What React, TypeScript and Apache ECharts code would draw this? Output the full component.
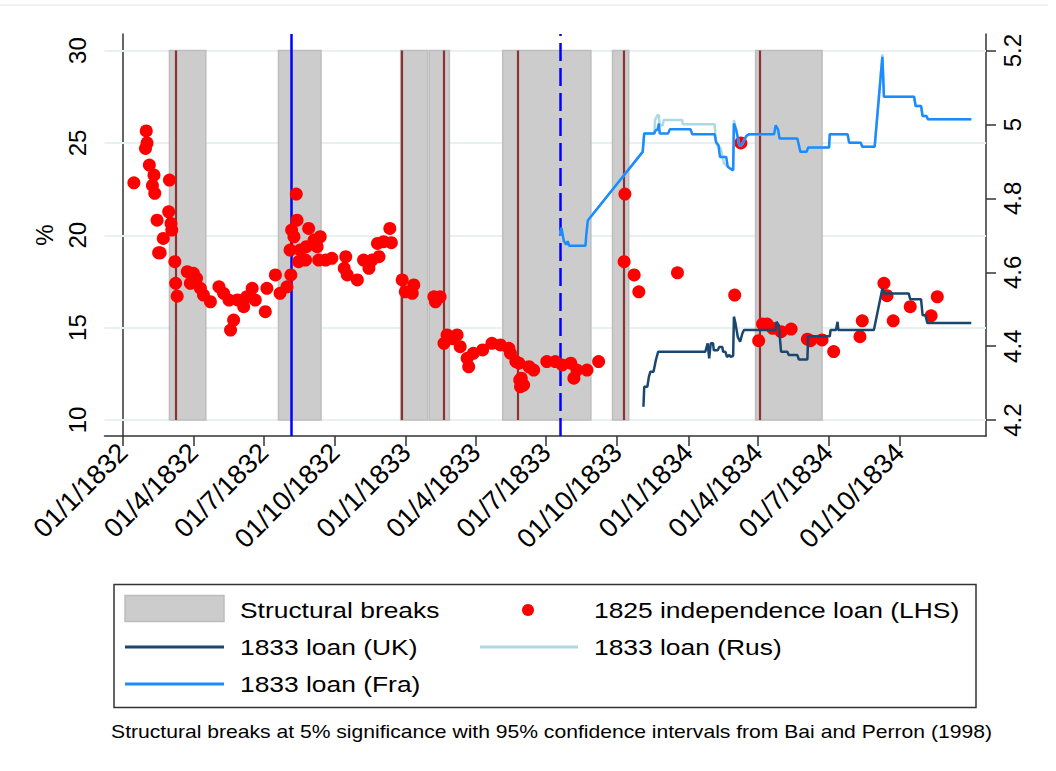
import React, { useEffect, useRef } from "react";
import * as echarts from "echarts";

const FONT = "'Liberation Sans', Arial, Helvetica, sans-serif";

// ---------- axis data ----------
const tickDates = [
  "1832-01-01", "1832-04-01", "1832-07-01", "1832-10-01",
  "1833-01-01", "1833-04-01", "1833-07-01", "1833-10-01",
  "1834-01-01", "1834-04-01", "1834-07-01", "1834-10-01",
];
const tickLabels = [
  "01/1/1832", "01/4/1832", "01/7/1832", "01/10/1832",
  "01/1/1833", "01/4/1833", "01/7/1833", "01/10/1833",
  "01/1/1834", "01/4/1834", "01/7/1834", "01/10/1834",
];
const xStart = "1831-12-08";
const xEnd = "1835-01-21";
const leftTicks = [10, 15, 20, 25, 30];
const rightTicks = [4.2, 4.4, 4.6, 4.8, 5, 5.2];
const leftRange = [9.13, 30.9];
const rightRange = [4.157, 5.245];

// ---------- structural breaks ----------
const breakStarts = ["1832-03-01", "1832-07-20", "1832-12-25", "1833-01-31", "1833-05-06", "1833-09-25", "1834-03-29"];
const breakEnds = ["1832-04-17", "1832-09-13", "1833-01-29", "1833-02-26", "1833-08-28", "1833-10-16", "1834-06-23"];
const breakDates = ["1832-03-09", "1832-12-26", "1833-02-19", "1833-05-26", "1833-10-09", "1834-04-03"];
const bandRange = [10, 30];
const blueSolidDate = "1832-08-06";
const blueDashedDate = "1833-07-19";

// ---------- 1825 independence loan (LHS) ----------
const loanDates = [
  "1832-01-15", "1832-01-30", "1832-01-31", "1832-02-01", "1832-02-04", "1832-02-08", "1832-02-10", "1832-02-11",
  "1832-02-14", "1832-02-16", "1832-02-18", "1832-02-22", "1832-02-29", "1832-03-01", "1832-03-03", "1832-03-04",
  "1832-03-08", "1832-03-09", "1832-03-11", "1832-03-24", "1832-03-28", "1832-04-01", "1832-04-05", "1832-04-10",
  "1832-04-14", "1832-04-23", "1832-05-04", "1832-05-10", "1832-05-17", "1832-05-19", "1832-05-23", "1832-05-28",
  "1832-06-05", "1832-06-09", "1832-06-16", "1832-06-20", "1832-07-03", "1832-07-05", "1832-07-16", "1832-07-22",
  "1832-07-31", "1832-08-04", "1832-08-05", "1832-08-06", "1832-08-09", "1832-08-12", "1832-08-13", "1832-08-15",
  "1832-08-17", "1832-08-24", "1832-08-25", "1832-08-28", "1832-09-04", "1832-09-08", "1832-09-10", "1832-09-12",
  "1832-09-19", "1832-09-27", "1832-10-13", "1832-10-15", "1832-10-17", "1832-10-30", "1832-11-07", "1832-11-14",
  "1832-11-18", "1832-11-25", "1832-11-27", "1832-12-03", "1832-12-11", "1832-12-13", "1832-12-27", "1832-12-31",
  "1833-01-09", "1833-01-11", "1833-02-06", "1833-02-08", "1833-02-14", "1833-02-19", "1833-02-23", "1833-03-02",
  "1833-03-08", "1833-03-12", "1833-03-21", "1833-03-23", "1833-03-29", "1833-04-10", "1833-04-22", "1833-05-03",
  "1833-05-14", "1833-05-16", "1833-05-23", "1833-05-27", "1833-05-28", "1833-05-29", "1833-05-30", "1833-06-02",
  "1833-06-09", "1833-06-15", "1833-07-02", "1833-07-13", "1833-07-22", "1833-08-02", "1833-08-06", "1833-08-10",
  "1833-08-23", "1833-09-07", "1833-10-10", "1833-10-11", "1833-10-23", "1833-10-29", "1833-12-18", "1834-03-02",
  "1834-03-10", "1834-04-02", "1834-04-07", "1834-04-13", "1834-04-20", "1834-05-01", "1834-05-14", "1834-06-04",
  "1834-06-08", "1834-06-23", "1834-07-08", "1834-08-11", "1834-08-14", "1834-09-11", "1834-09-15", "1834-09-23",
  "1834-10-15", "1834-11-11", "1834-11-19",
];
const loanValues = [
  22.84, 24.7, 25.65, 25.0, 23.8, 22.7, 23.26, 22.27,
  20.82, 19.05, 19.05, 19.83, 21.27, 22.99, 20.64, 20.28,
  18.57, 17.4, 16.7, 18.03, 17.4, 17.94, 17.67, 17.13,
  16.76, 16.4, 17.21, 16.86, 16.49, 14.87, 15.41, 16.5,
  16.13, 16.67, 17.13, 16.49, 15.86, 17.13, 17.85, 16.86,
  17.21, 19.2, 17.85, 20.28, 19.92, 22.23, 20.82, 18.57,
  19.2, 18.66, 19.38, 20.37, 19.74, 19.38, 18.66, 19.92,
  18.66, 18.75, 18.21, 18.84, 17.85, 17.58, 18.66, 18.21,
  18.66, 19.56, 18.84, 19.65, 20.37, 19.6, 17.58, 16.94,
  16.86, 17.31, 16.67, 16.4, 16.67, 14.15, 14.6, 14.4,
  14.6, 13.97, 13.34, 12.88, 13.61, 13.79, 14.15, 14.06,
  13.88, 13.61, 13.16, 13.07, 12.16, 11.8, 12.26, 11.89,
  12.88, 12.7, 13.16, 13.16, 12.98, 13.07, 12.26, 12.7,
  12.7, 13.16, 18.57, 22.23, 17.85, 16.94, 17.97, 16.76,
  25.0, 14.29, 15.19, 15.19, 14.96, 14.78, 14.92, 14.37,
  14.29, 14.33, 13.7, 14.51, 15.37, 17.4, 16.73, 15.37,
  16.13, 15.64, 16.67,
];

// ---------- 1833 loan (UK), RHS ----------
const ukDates = [
  "1833-11-04", "1833-11-05", "1833-11-09", "1833-11-11", "1833-11-13", "1833-11-17", "1833-11-20", "1833-11-23",
  "1834-01-23", "1834-01-26", "1834-01-28", "1834-01-30", "1834-02-02", "1834-02-03", "1834-02-08", "1834-02-10",
  "1834-02-14", "1834-02-15", "1834-02-18", "1834-02-20", "1834-02-23", "1834-02-25", "1834-02-28", "1834-03-01",
  "1834-03-03", "1834-03-06", "1834-03-09", "1834-03-12", "1834-03-14", "1834-04-24", "1834-04-25", "1834-04-28",
  "1834-05-01", "1834-05-09", "1834-05-11", "1834-05-22", "1834-05-24", "1834-06-04", "1834-06-05", "1834-07-03",
  "1834-07-04", "1834-07-11", "1834-07-13", "1834-07-14", "1834-08-29", "1834-09-09", "1834-09-12", "1834-10-13",
  "1834-10-15", "1834-10-29", "1834-10-31", "1834-11-04", "1834-11-06", "1835-01-02",
];
const ukValues = [
  4.236, 4.29, 4.29, 4.317, 4.331, 4.331, 4.362, 4.385,
  4.385, 4.408, 4.367, 4.408, 4.408, 4.389, 4.389, 4.398,
  4.398, 4.385, 4.385, 4.371, 4.376, 4.371, 4.374, 4.48,
  4.462, 4.425, 4.412, 4.435, 4.444, 4.444, 4.466, 4.457,
  4.385, 4.385, 4.376, 4.376, 4.364, 4.364, 4.427, 4.427,
  4.444, 4.444, 4.466, 4.444, 4.444, 4.556, 4.543, 4.543,
  4.527, 4.527, 4.484, 4.484, 4.463, 4.463,
];

// ---------- 1833 loan (Rus), RHS ----------
const rusDates = [
  "1833-07-19", "1833-07-21", "1833-07-24", "1833-07-27", "1833-07-29", "1833-07-31", "1833-08-21", "1833-08-22",
  "1833-08-24", "1833-11-03", "1833-11-05", "1833-11-18", "1833-11-19", "1833-11-22", "1833-11-24", "1833-11-25",
  "1833-11-29", "1833-11-30", "1833-12-24", "1833-12-25", "1834-02-04", "1834-02-06", "1834-02-12", "1834-02-16",
  "1834-02-21", "1834-02-27", "1834-02-28", "1834-03-01", "1834-03-04", "1834-03-08", "1834-03-11", "1834-03-17",
  "1834-03-21", "1834-04-22", "1834-04-24", "1834-04-27", "1834-04-29", "1834-05-22", "1834-05-26", "1834-06-03",
  "1834-06-05", "1834-07-02", "1834-07-03", "1834-07-26", "1834-07-28", "1834-08-12", "1834-08-14", "1834-08-30",
  "1834-09-09", "1834-09-11", "1834-10-20", "1834-10-22", "1834-10-29", "1834-10-31", "1834-11-05", "1834-11-07",
  "1835-01-02",
];
const rusValues = [
  4.70, 4.72, 4.685, 4.675, 4.684, 4.672, 4.672, 4.70,
  4.74, 4.926, 4.976, 4.976, 5.012, 5.025, 5.025, 4.998,
  4.998, 5.012, 5.012, 5.001, 5.001, 4.949, 4.935, 4.895,
  4.886, 4.877, 4.877, 5.012, 4.985, 4.944, 4.944, 4.969,
  4.974, 4.974, 4.998, 4.987, 4.962, 4.962, 4.926, 4.926,
  4.938, 4.938, 4.974, 4.974, 4.951, 4.951, 4.94, 4.94,
  5.19, 5.075, 5.075, 5.05, 5.05, 5.023, 5.023, 5.014,
  5.014,
];

// ---------- 1833 loan (Fra), RHS ----------
const fraDates = [
  "1833-07-19", "1833-07-21", "1833-07-24", "1833-07-27", "1833-07-29", "1833-07-31", "1833-08-21", "1833-08-22",
  "1833-08-24", "1833-11-03", "1833-11-05", "1833-11-18", "1833-11-20", "1833-11-22", "1833-11-24", "1833-11-25",
  "1833-12-06", "1833-12-08", "1834-01-04", "1834-01-06", "1834-02-04", "1834-02-06", "1834-02-09", "1834-02-11",
  "1834-02-19", "1834-02-21", "1834-02-27", "1834-02-28", "1834-03-01", "1834-03-04", "1834-03-08", "1834-03-11",
  "1834-03-17", "1834-03-21", "1834-04-22", "1834-04-24", "1834-04-27", "1834-04-29", "1834-05-22", "1834-05-26",
  "1834-06-03", "1834-06-05", "1834-07-02", "1834-07-03", "1834-07-26", "1834-07-28", "1834-08-12", "1834-08-14",
  "1834-08-30", "1834-09-09", "1834-09-11", "1834-10-20", "1834-10-22", "1834-10-29", "1834-10-31", "1834-11-05",
  "1834-11-07", "1835-01-02",
];
const fraValues = [
  4.70, 4.72, 4.685, 4.675, 4.684, 4.672, 4.672, 4.70,
  4.74, 4.926, 4.976, 4.976, 4.985, 4.985, 5.003, 4.976,
  4.976, 4.987, 4.987, 4.974, 4.974, 4.952, 4.944, 4.912,
  4.912, 4.886, 4.877, 4.877, 5.003, 4.985, 4.944, 4.944,
  4.969, 4.974, 4.974, 4.998, 4.987, 4.962, 4.962, 4.926,
  4.926, 4.938, 4.938, 4.974, 4.974, 4.951, 4.951, 4.94,
  4.94, 5.183, 5.075, 5.075, 5.05, 5.05, 5.023, 5.023,
  5.014, 5.014,
];

// ---------- legend / note text ----------
const legendLabels = [
  "Structural breaks",
  "1825 independence loan (LHS)",
  "1833 loan (UK)",
  "1833 loan (Rus)",
  "1833 loan (Fra)",
];
const noteText = "Structural breaks at 5% significance with 95% confidence intervals from Bai and Perron (1998)";

const COLORS = {
  band: "#cccccc",
  bandBorder: "#bdbdbd",
  brown: "#8b3232",
  blue: "#0000ff",
  red: "#ff0000",
  uk: "#1a476f",
  rus: "#add8e6",
  fra: "#1a8cff",
  grid: "#e8f0f2",
  axis: "#333333",
};

const ORIGIN = Date.UTC(1832, 0, 1);
const dayOf = (s: string) => {
  const [y, m, d] = s.split("-").map(Number);
  return (Date.UTC(y, m - 1, d) - ORIGIN) / 86400000;
};
const pairs = (dates: string[], vals: number[]) => dates.map((d, i) => [dayOf(d), vals[i]]);

export default function App() {
  const ref = useRef<HTMLDivElement>(null);

  useEffect(() => {
    if (!ref.current) return;
    const chart = echarts.init(ref.current, null, { renderer: "svg" });
    const tickDays = tickDates.map(dayOf);

    const legendText = (x: number, y: number, text: string) => ({
      type: "text",
      x,
      y,
      scaleX: 1.2,
      style: { text, fontSize: 22, fontFamily: FONT, fill: "#000", align: "left", verticalAlign: "middle" },
    });

    const option: any = {
      animation: false,
      backgroundColor: "#ffffff",
      grid: { left: 104.5, right: 70, top: 34, bottom: 335, containLabel: false },
      xAxis: {
        type: "value",
        min: dayOf(xStart),
        max: dayOf(xEnd),
        axisLine: { show: true, lineStyle: { color: COLORS.axis, width: 1.5 } },
        axisTick: { show: true, length: 10, customValues: tickDays, lineStyle: { color: COLORS.axis, width: 1.5 } },
        axisLabel: {
          customValues: tickDays,
          rotate: 45,
          margin: 12,
          fontSize: 27,
          fontFamily: FONT,
          color: "#000",
          formatter: (v: number) => {
            const i = tickDays.indexOf(v);
            return i >= 0 ? tickLabels[i] : "";
          },
        },
        splitLine: { show: false },
      },
      yAxis: [
        {
          type: "value",
          position: "left",
          min: leftRange[0],
          max: leftRange[1],
          name: "%",
          nameLocation: "middle",
          nameGap: 48,
          nameRotate: 90,
          nameTextStyle: { fontSize: 24, fontFamily: FONT, color: "#000" },
          axisLine: { show: true, lineStyle: { color: COLORS.axis, width: 1.5 } },
          axisTick: { show: true, length: 10, customValues: leftTicks, lineStyle: { color: COLORS.axis, width: 1.5 } },
          axisLabel: { customValues: leftTicks, rotate: 90, margin: 15, fontSize: 24, fontFamily: FONT, color: "#000" },
          splitLine: { show: false },
        },
        {
          type: "value",
          position: "right",
          min: rightRange[0],
          max: rightRange[1],
          axisLine: { show: true, lineStyle: { color: COLORS.axis, width: 1.5 } },
          axisTick: { show: true, length: 10, customValues: rightTicks, lineStyle: { color: COLORS.axis, width: 1.5 } },
          axisLabel: { customValues: rightTicks, rotate: 90, margin: 14, fontSize: 24, fontFamily: FONT, color: "#000" },
          splitLine: { show: false },
        },
      ],
      series: [
        {
          name: "grid",
          type: "line",
          data: [],
          silent: true,
          z: 1,
          markLine: {
            silent: true,
            symbol: ["none", "none"],
            label: { show: false },
            z: 1,
            lineStyle: { color: COLORS.grid, width: 2, type: "solid" },
            data: leftTicks.map((v) => ({ yAxis: v })),
          },
        },
        {
          name: "Structural breaks",
          type: "line",
          data: [],
          silent: true,
          z: 2,
          markArea: {
            silent: true,
            z: 2,
            itemStyle: { color: COLORS.band, borderColor: COLORS.bandBorder, borderWidth: 1.5 },
            data: breakStarts.map((s, i) => [
              { coord: [dayOf(s), bandRange[0]] },
              { coord: [dayOf(breakEnds[i]), bandRange[1]] },
            ]),
          },
          markLine: {
            silent: true,
            z: 3,
            symbol: ["none", "none"],
            label: { show: false },
            lineStyle: { color: COLORS.brown, width: 2.2, type: "solid" },
            data: [
              ...breakDates.map((d) => [
                { coord: [dayOf(d), bandRange[0]] },
                { coord: [dayOf(d), bandRange[1]] },
              ]),
              { xAxis: dayOf(blueSolidDate), lineStyle: { color: COLORS.blue, width: 2.5, type: "solid" } },
              { xAxis: dayOf(blueDashedDate), lineStyle: { color: COLORS.blue, width: 2.5, type: [18, 7] } },
            ],
          },
        },
        {
          name: "1825 independence loan (LHS)",
          type: "scatter",
          yAxisIndex: 0,
          z: 4,
          symbolSize: 13,
          itemStyle: { color: COLORS.red, opacity: 1 },
          data: pairs(loanDates, loanValues),
        },
        {
          name: "1833 loan (Rus)",
          type: "line",
          yAxisIndex: 1,
          z: 5,
          showSymbol: false,
          lineStyle: { color: COLORS.rus, width: 2.5 },
          data: pairs(rusDates, rusValues),
        },
        {
          name: "1833 loan (UK)",
          type: "line",
          yAxisIndex: 1,
          z: 6,
          showSymbol: false,
          lineStyle: { color: COLORS.uk, width: 2.5 },
          data: pairs(ukDates, ukValues),
        },
        {
          name: "1833 loan (Fra)",
          type: "line",
          yAxisIndex: 1,
          z: 7,
          showSymbol: false,
          lineStyle: { color: COLORS.fra, width: 2.5 },
          data: pairs(fraDates, fraValues),
        },
      ],
      graphic: [
        { type: "line", shape: { x1: 0, y1: 5, x2: 1048, y2: 5 }, style: { stroke: "#e6e6e6", lineWidth: 1 } },
        {
          type: "rect",
          shape: { x: 114, y: 584.5, width: 862, height: 123 },
          style: { fill: "#ffffff", stroke: COLORS.axis, lineWidth: 1.5 },
        },
        {
          type: "rect",
          shape: { x: 125, y: 595.5, width: 99, height: 26 },
          style: { fill: COLORS.band, stroke: COLORS.bandBorder, lineWidth: 1.5 },
        },
        legendText(240, 610, legendLabels[0]),
        { type: "circle", shape: { cx: 528, cy: 610, r: 6 }, style: { fill: COLORS.red } },
        legendText(594, 610, legendLabels[1]),
        { type: "line", shape: { x1: 125, y1: 647, x2: 224, y2: 647 }, style: { stroke: COLORS.uk, lineWidth: 3 } },
        legendText(240, 647, legendLabels[2]),
        { type: "line", shape: { x1: 480, y1: 647, x2: 578, y2: 647 }, style: { stroke: COLORS.rus, lineWidth: 3 } },
        legendText(594, 647, legendLabels[3]),
        { type: "line", shape: { x1: 125, y1: 684, x2: 224, y2: 684 }, style: { stroke: COLORS.fra, lineWidth: 3 } },
        legendText(240, 684, legendLabels[4]),
        {
          type: "text",
          x: 551.5,
          y: 732,
          scaleX: 1.2,
          style: { text: noteText, fontSize: 17.6, fontFamily: FONT, fill: "#000", align: "center", verticalAlign: "middle" },
        },
      ],
    };

    chart.setOption(option);
    return () => chart.dispose();
  }, []);

  return (
    <div
      ref={ref}
      style={{ position: "fixed", left: 0, top: 0, width: 1056, height: 771, background: "#fff" }}
    />
  );
}
